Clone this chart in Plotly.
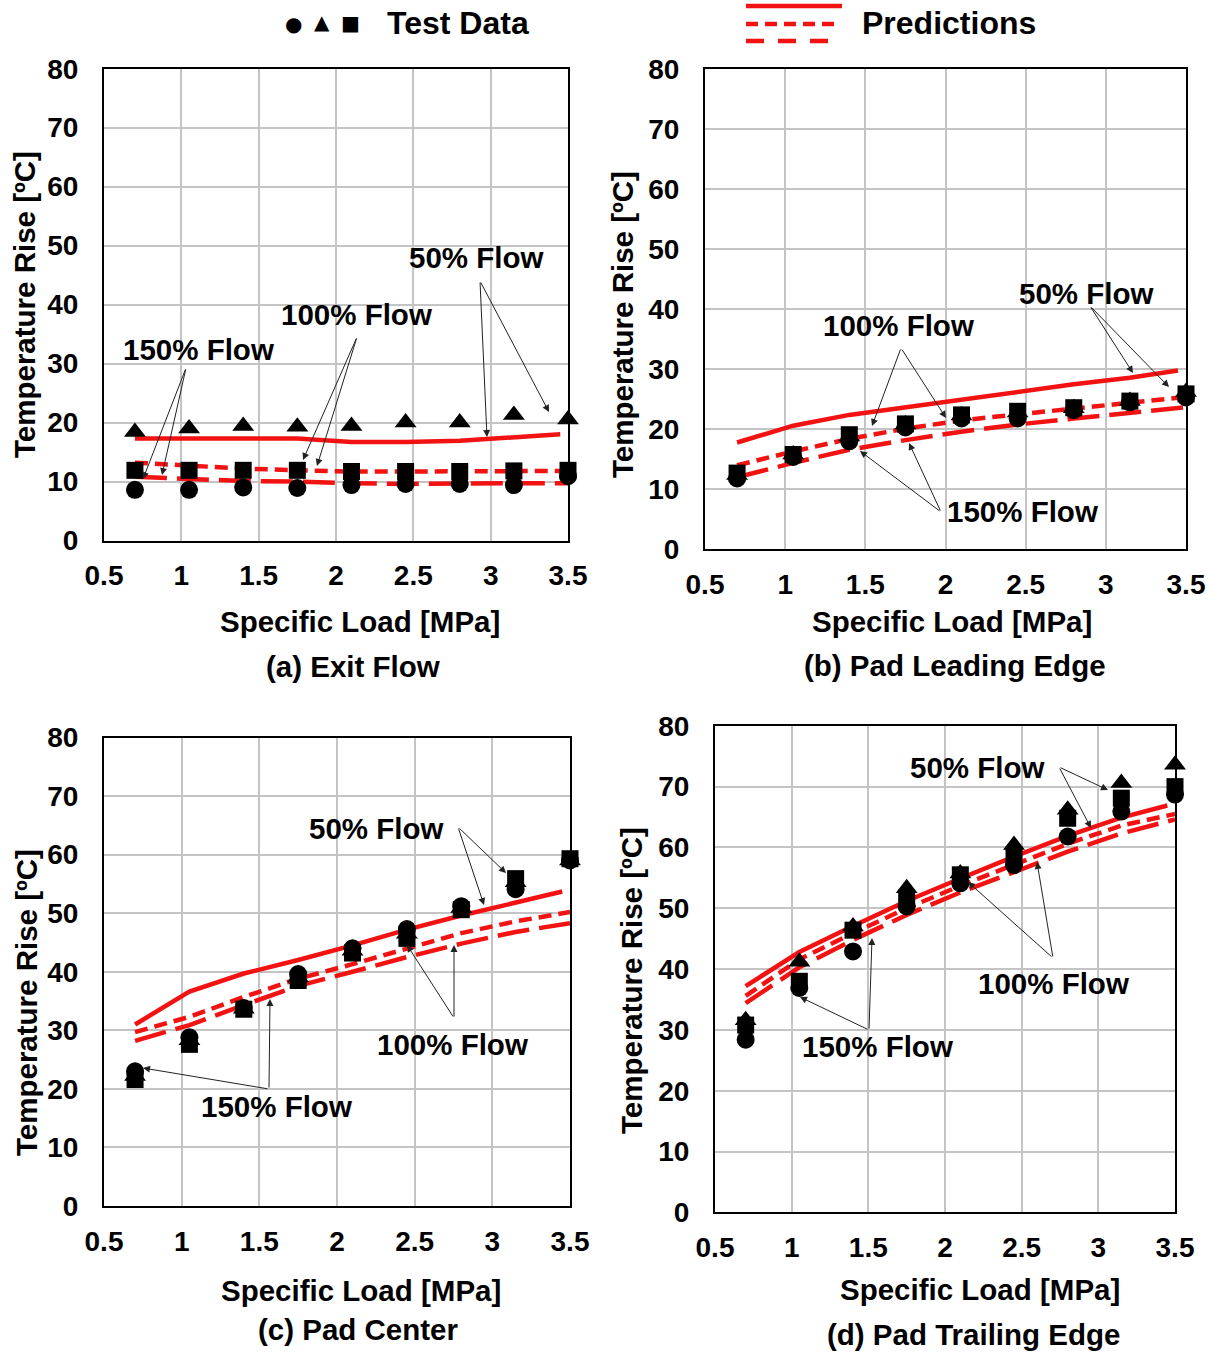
import plotly.graph_objects as go

W, H = 1211, 1352
FONT = "Liberation Sans"
RED = "#f21212"

# ---------------- data ----------------
x_test = [0.7, 1.05, 1.4, 1.75, 2.1, 2.45, 2.8, 3.15, 3.5]
x_pred_solid = [0.7, 1.05, 1.4, 1.75, 2.1, 2.45, 2.8, 3.15, 3.45]
x_pred_dash = [0.7, 1.05, 1.4, 1.75, 2.1, 2.45, 2.8, 3.15, 3.5]

x_ticks = [0.5, 1, 1.5, 2, 2.5, 3, 3.5]
x_ticktext = ["0.5", "1", "1.5", "2", "2.5", "3", "3.5"]
y_ticks = [0, 10, 20, 30, 40, 50, 60, 70, 80]

# (a) Exit Flow
a_tri_50 = [18.4, 19.0, 19.4, 19.3, 19.4, 20.0, 20.0, 21.3, 20.5]
a_sq_100 = [11.9, 11.9, 11.9, 11.9, 11.7, 11.7, 11.7, 11.8, 11.9]
a_ci_150 = [8.6, 8.6, 9.0, 8.9, 9.4, 9.6, 9.6, 9.4, 10.9]
a_pred_50 = [17.3, 17.3, 17.3, 17.3, 16.7, 16.7, 16.9, 17.4, 18.0]
a_pred_100 = [13.2, 12.7, 12.2, 11.9, 11.7, 11.7, 11.7, 11.7, 11.8]
a_pred_150 = [10.8, 10.5, 10.1, 10.0, 9.7, 9.6, 9.7, 9.7, 9.7]

# (b) Pad Leading Edge
b_tri_50 = [12.4, 15.8, 18.8, 20.8, 22.3, 22.8, 23.5, 24.7, 26.2]
b_sq_100 = [12.7, 15.8, 19.1, 20.9, 22.4, 23.0, 23.6, 24.7, 25.9]
b_ci_150 = [11.8, 15.4, 18.0, 20.3, 21.8, 21.8, 23.2, 24.5, 25.3]
b_pred_50 = [17.8, 20.6, 22.4, 23.7, 25.0, 26.3, 27.5, 28.6, 29.8]
b_pred_100 = [14.0, 16.3, 18.4, 20.1, 21.5, 22.5, 23.4, 24.4, 25.4]
b_pred_150 = [12.0, 14.4, 16.6, 18.2, 19.6, 20.8, 21.8, 22.8, 23.7]

# (c) Pad Center
c_tri_50 = [22.2, 28.3, 33.7, 39.0, 43.6, 46.5, 50.9, 55.3, 59.0]
c_sq_100 = [21.6, 27.6, 33.6, 38.5, 43.2, 45.7, 50.6, 55.9, 59.3]
c_ci_150 = [23.0, 28.8, 33.8, 39.6, 44.0, 47.3, 51.2, 54.1, 59.0]
c_pred_50 = [31.0, 36.6, 39.7, 42.0, 44.5, 47.2, 49.6, 51.8, 53.7]
c_pred_100 = [29.7, 32.3, 35.7, 38.8, 41.3, 44.0, 46.6, 48.6, 50.2]
c_pred_150 = [28.2, 30.9, 34.3, 37.6, 40.0, 42.5, 44.8, 46.8, 48.3]

# (d) Pad Trailing Edge
d_tri_50 = [31.6, 41.2, 47.0, 53.3, 55.7, 60.4, 66.2, 70.6, 73.6]
d_sq_100 = [30.8, 38.0, 46.4, 51.7, 55.5, 58.8, 64.8, 68.1, 70.0]
d_ci_150 = [28.4, 36.9, 42.9, 50.3, 54.1, 57.1, 61.8, 65.9, 68.7]
d_pred_50 = [37.2, 42.8, 47.1, 51.2, 54.9, 58.5, 61.9, 64.9, 66.9]
d_pred_100 = [35.6, 41.6, 45.9, 50.0, 53.7, 57.2, 60.6, 63.6, 65.5]
d_pred_150 = [34.4, 40.3, 44.8, 48.9, 52.6, 56.0, 59.3, 62.3, 64.6]

panels = [
    dict(name="a", tri=a_tri_50, sq=a_sq_100, ci=a_ci_150,
         p50=a_pred_50, p100=a_pred_100, p150=a_pred_150,
         box=(104, 568, 68.7, 540.5)),
    dict(name="b", tri=b_tri_50, sq=b_sq_100, ci=b_ci_150,
         p50=b_pred_50, p100=b_pred_100, p150=b_pred_150,
         box=(705, 1186, 69.3, 549.3)),
    dict(name="c", tri=c_tri_50, sq=c_sq_100, ci=c_ci_150,
         p50=c_pred_50, p100=c_pred_100, p150=c_pred_150,
         box=(104, 570, 737.5, 1206)),
    dict(name="d", tri=d_tri_50, sq=d_sq_100, ci=d_ci_150,
         p50=d_pred_50, p100=d_pred_100, p150=d_pred_150,
         box=(715, 1175, 725.8, 1212.4)),
]


def px(x):
    return x / W


def py(y):
    return 1 - y / H


fig = go.Figure()
layout = dict(
    width=W, height=H,
    margin=dict(l=0, r=0, t=0, b=0, pad=0, autoexpand=False),
    paper_bgcolor="white", plot_bgcolor="white", showlegend=False,
    font=dict(family=FONT, color="black", size=28, weight="bold"),
)

TICKFONT = dict(family=FONT, size=28, color="black", weight="bold")

for i, p in enumerate(panels):
    n = "" if i == 0 else str(i + 1)
    xa, ya = "x" + n, "y" + n
    x0, x1, yt, yb = p["box"]
    layout["xaxis" + n] = dict(
        domain=[px(x0), px(x1)], anchor=ya, range=[0.5, 3.5],
        tickvals=x_ticks, ticktext=x_ticktext, ticks="",
        showgrid=True, gridcolor="#c4c4c4", gridwidth=2,
        showline=True, mirror=True, linecolor="black", linewidth=2,
        zeroline=False, ticklabelstandoff=9, automargin=False,
        tickfont=TICKFONT,
    )
    layout["yaxis" + n] = dict(
        domain=[py(yb), py(yt)], anchor=xa, range=[0, 80],
        tickvals=y_ticks, ticks="",
        showgrid=True, gridcolor="#c4c4c4", gridwidth=2,
        showline=True, mirror=True, linecolor="black", linewidth=2,
        zeroline=False, ticklabelstandoff=18, automargin=False,
        tickfont=TICKFONT,
    )
    # predictions
    fig.add_trace(go.Scatter(x=x_pred_solid, y=p["p50"], mode="lines",
                             line=dict(color=RED, width=4.5), xaxis=xa, yaxis=ya))
    fig.add_trace(go.Scatter(x=x_pred_dash, y=p["p100"], mode="lines",
                             line=dict(color=RED, width=4.5, dash="13px,7px"),
                             xaxis=xa, yaxis=ya))
    fig.add_trace(go.Scatter(x=x_pred_dash, y=p["p150"], mode="lines",
                             line=dict(color=RED, width=4.5, dash="32px,10px"),
                             xaxis=xa, yaxis=ya))
    # test data
    fig.add_trace(go.Scatter(x=x_test, y=p["tri"], mode="markers",
                             marker=dict(symbol="triangle-up", size=19, color="black"),
                             xaxis=xa, yaxis=ya, cliponaxis=False))
    fig.add_trace(go.Scatter(x=x_test, y=p["sq"], mode="markers",
                             marker=dict(symbol="square", size=17, color="black"),
                             xaxis=xa, yaxis=ya, cliponaxis=False))
    fig.add_trace(go.Scatter(x=x_test, y=p["ci"], mode="markers",
                             marker=dict(symbol="circle", size=18, color="black"),
                             xaxis=xa, yaxis=ya, cliponaxis=False))

ann = []
shapes = []


def txt(x, y, s, size=29.5, angle=0, xanchor="center", family=FONT):
    ann.append(dict(x=px(x), y=py(y), xref="paper", yref="paper", text=s,
                    showarrow=False, textangle=angle, xanchor=xanchor,
                    yanchor="middle",
                    font=dict(family=family, size=size, color="black", weight="bold")))


def arrow(tx, ty, hx, hy):
    ann.append(dict(x=px(hx), y=py(hy), xref="paper", yref="paper", text="",
                    showarrow=True, ax=tx - hx, ay=ty - hy,
                    arrowhead=2, arrowsize=1.4, arrowwidth=1,
                    arrowcolor="#222222", standoff=0, startstandoff=0))


# axis titles and captions
ytitle = "Temperature Rise [ºC]"
xtitle = "Specific Load [MPa]"
for (yx, yy, xx, xy, cx, cy, cap) in [
    (25, 305, 360, 621, 353, 666, "(a) Exit Flow"),
    (622, 325, 952, 621, 955, 665, "(b) Pad Leading Edge"),
    (26, 1003, 361, 1290, 358, 1329, "(c) Pad Center"),
    (631, 981, 980, 1289, 973, 1334, "(d) Pad Trailing Edge"),
]:
    txt(yx, yy, ytitle, angle=-90)
    txt(xx, xy, xtitle)
    txt(cx, cy, cap)

# panel (a) annotations
txt(476, 257, "50% Flow")
arrow(480, 281, 487, 437)
arrow(480, 281, 549, 412)
txt(356, 315, "100% Flow")
arrow(357, 337, 303, 460)
arrow(357, 337, 317, 466)
txt(198, 350, "150% Flow")
arrow(186, 368, 143, 479)
arrow(186, 368, 162, 475)

# panel (b)
txt(1086, 293, "50% Flow")
arrow(1090, 306, 1133, 373)
arrow(1090, 306, 1169, 387)
txt(898, 325, "100% Flow")
arrow(901, 348, 872, 426)
arrow(901, 348, 946, 418)
txt(1022, 512, "150% Flow")
arrow(941, 512, 860, 451)
arrow(941, 512, 909, 443)

# panel (c)
txt(376, 828, "50% Flow")
arrow(458, 827, 506, 873)
arrow(458, 827, 484, 905)
txt(452, 1044, "100% Flow")
arrow(454, 1018, 407, 945)
arrow(454, 1018, 454, 945)
txt(276, 1106, "150% Flow")
arrow(269, 1089, 143, 1068)
arrow(269, 1089, 270, 999)

# panel (d)
txt(977, 767, "50% Flow")
arrow(1059, 767, 1108, 790)
arrow(1059, 767, 1091, 828)
txt(1053, 983, "100% Flow")
arrow(1053, 958, 968, 882)
arrow(1053, 958, 1037, 862)
txt(877, 1046, "150% Flow")
arrow(869, 1030, 800, 997)
arrow(869, 1030, 872, 938)

# top legend
txt(293, 24, "●", size=20, family="DejaVu Sans")
txt(322, 22, "▲", size=20, family="DejaVu Sans")
txt(350, 23, "■", size=20, family="DejaVu Sans")
txt(385, 23, "Test Data", size=32, xanchor="left")
txt(860, 23, "Predictions", size=32, xanchor="left")
for (y, x1, dash) in [(6, 842, "solid"), (24, 835, "12px,7px"), (41, 830, "18px,14px")]:
    shapes.append(dict(type="line", xref="paper", yref="paper",
                       x0=px(746), x1=px(x1), y0=py(y), y1=py(y),
                       line=dict(color=RED, width=4.5, dash=dash)))

layout["annotations"] = ann
layout["shapes"] = shapes
fig.update_layout(**layout)
fig.write_html("out.html")
